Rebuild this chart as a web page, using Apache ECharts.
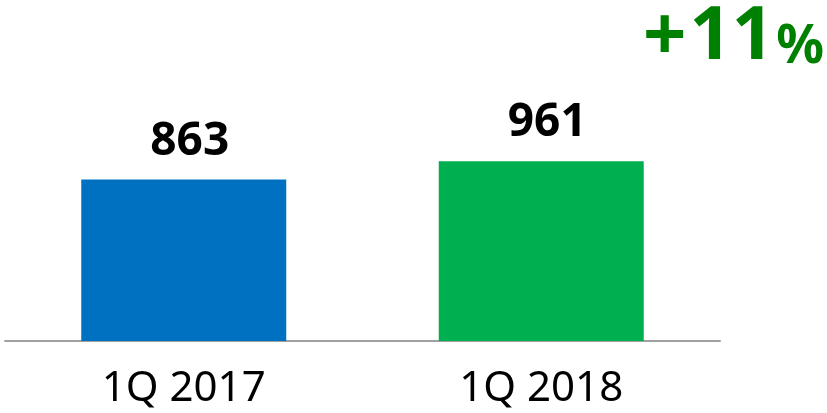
<!DOCTYPE html>
<html>
<head>
<meta charset="utf-8">
<script src="https://cdn.jsdelivr.net/npm/echarts@6/dist/echarts.min.js"></script>
<style>
  html, body { margin: 0; padding: 0; background: #fff; }
  #main { width: 827px; height: 413px; }
</style>
</head>
<body>
<div id="main"></div>
<script>
// 数据
var categories = ['1Q 2017', '1Q 2018'];
var values = [863, 961];
var barColors = ['#0070C0', '#00B050'];
var growthSign = '+';
var growthValue = '11';

var myChart = echarts.init(document.getElementById('main'));

myChart.setOption({
  animation: false,
  grid: {
    left: 5,
    right: 107,
    top: 154,
    bottom: 72
  },
  xAxis: {
    type: 'category',
    data: categories,
    axisLine: {
      lineStyle: { color: '#A0A0A0', width: 2 }
    },
    axisTick: { show: false },
    axisLabel: {
      color: '#000',
      fontFamily: 'Noto Sans',
      fontSize: 42,
      margin: 27
    }
  },
  yAxis: {
    type: 'value',
    min: 0,
    max: 1000,
    show: false,
    splitLine: { show: false }
  },
  series: [{
    type: 'bar',
    barWidth: 205,
    data: values.map(function (v, i) {
      return { value: v, itemStyle: { color: barColors[i] } };
    }),
    label: {
      show: true,
      position: 'top',
      distance: 15,
      offset: [6, 0],
      color: '#000',
      fontFamily: 'Noto Sans',
      fontWeight: 'bold',
      fontSize: 46
    }
  }],
  // +11% 增长标注
  graphic: [{
    type: 'text',
    right: 3,
    top: 0,
    style: {
      text: '{p|' + growthSign + '}{a|' + growthValue + '}{b|%}',
      rich: {
        p: { fontFamily: 'Noto Sans', fontWeight: 'bold', fontSize: 76, fill: '#008000', padding: [0, 3, 0, 0] },
        a: { fontFamily: 'Noto Sans', fontWeight: 'bold', fontSize: 74, fill: '#008000' },
        b: { fontFamily: 'Noto Sans', fontWeight: 'bold', fontSize: 53, fill: '#008000', verticalAlign: 'bottom', padding: [0, 0, 2, 2] }
      }
    }
  }]
});
</script>
</body>
</html>
